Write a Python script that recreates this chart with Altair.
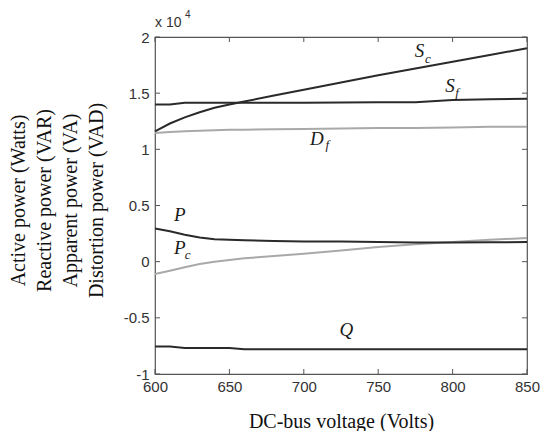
import altair as alt
import pandas as pd

# ---- data (values in units of 10^4) ----
voltage = [600, 610, 620, 630, 640, 650, 660, 680, 700, 725, 750, 775, 800, 825, 850]
s_c = [1.16, 1.23, 1.285, 1.33, 1.37, 1.40, 1.425, 1.48, 1.53, 1.595, 1.66, 1.72, 1.78, 1.84, 1.90]
s_f = [1.40, 1.40, 1.415, 1.415, 1.415, 1.415, 1.415, 1.415, 1.415, 1.418, 1.42, 1.42, 1.44, 1.445, 1.45]
d_f = [1.145, 1.155, 1.16, 1.165, 1.17, 1.175, 1.175, 1.178, 1.18, 1.185, 1.19, 1.19, 1.195, 1.20, 1.20]
p = [0.295, 0.27, 0.24, 0.215, 0.20, 0.195, 0.19, 0.185, 0.18, 0.18, 0.175, 0.17, 0.17, 0.172, 0.175]
p_c = [-0.11, -0.08, -0.05, -0.02, 0.0, 0.015, 0.03, 0.05, 0.07, 0.10, 0.13, 0.155, 0.175, 0.195, 0.21]
q = [-0.756, -0.756, -0.768, -0.768, -0.768, -0.768, -0.78, -0.78, -0.78, -0.78, -0.78, -0.78, -0.78, -0.78, -0.78]

series_names = ["Df", "Pc", "Sc", "Sf", "P", "Q"]
series_values = [d_f, p_c, s_c, s_f, p, q]
series_colors = ["#a9a9a9", "#a9a9a9", "#2a2a2a", "#2a2a2a", "#2a2a2a", "#2a2a2a"]

x_ticks = [600, 650, 700, 750, 800, 850]
y_ticks = [-1, -0.5, 0, 0.5, 1, 1.5, 2]

label_main = ["S", "S", "D", "P", "P", "Q"]
label_v = [777.7, 798.3, 708.8, 616.6, 616.6, 728.6]
label_val = [1.871, 1.562, 1.094, 0.415, 0.124, -0.61]

sub_text = ["c", "f", "f", "c"]
sub_v = [781.5, 801.8, 714.5, 620.0]
sub_val = [1.805, 1.50, 1.035, 0.062]

exp_base = "x 10"
exp_power = "4"
exp_v = 600
exp_val = 2.127

x_title = "DC-bus voltage (Volts)"
y_title = ["Active power (Watts)", "Reactive power (VAR)",
           "Apparent power (VA)", "Distortion power (VAD)"]

# ---- tables ----
rows = []
for name, vals in zip(series_names, series_values):
    for v, val in zip(voltage, vals):
        rows.append({"series": name, "voltage": v, "value": val})
df = pd.DataFrame(rows)

lab = pd.DataFrame({"main": label_main, "voltage": label_v, "value": label_val})
sublab = pd.DataFrame({"sub": sub_text, "voltage": sub_v, "value": sub_val})
expdf = pd.DataFrame({"base": [exp_base], "pw": [exp_power],
                      "voltage": [exp_v], "value": [exp_val]})
xt = pd.DataFrame({"voltage": x_ticks})
yt = pd.DataFrame({"value": y_ticks})

W, H = 372, 337
frame = "#555555"
TL = 5

xscale = alt.Scale(domain=[600, 850], nice=False, zero=False)
yscale = alt.Scale(domain=[-1, 2], nice=False, zero=False)

xaxis = alt.Axis(values=x_ticks, title=x_title, ticks=False, domain=False, grid=False,
                 labelFont="Liberation Sans", labelFontSize=15, labelColor="#333333",
                 labelPadding=5, labelFlush=False,
                 titleFont="Liberation Serif", titleFontSize=20, titleFontWeight="normal",
                 titleColor="#111111", titleY=47, titleBaseline="middle")
yaxis = alt.Axis(values=y_ticks, title=y_title, ticks=False, domain=False, grid=False,
                 labelFont="Liberation Sans", labelFontSize=15, labelColor="#333333",
                 labelPadding=6, labelExpr="toString(datum.value)",
                 titleFont="Liberation Serif", titleFontSize=20, titleFontWeight="normal",
                 titleColor="#111111", titleX=-127, titleY=163, titleLineHeight=26,
                 titleBaseline="bottom", titleAlign="center", titleAngle=270)

X = alt.X("voltage:Q", scale=xscale)
Y = alt.Y("value:Q", scale=yscale)

lines = alt.Chart(df).mark_line(strokeWidth=2).encode(
    x=alt.X("voltage:Q", scale=xscale, axis=xaxis),
    y=alt.Y("value:Q", scale=yscale, axis=yaxis),
    color=alt.Color("series:N", scale=alt.Scale(domain=series_names, range=series_colors),
                    legend=None),
    detail="series:N",
)

tb = alt.Chart(xt).mark_rule(color=frame, strokeWidth=1).encode(
    x=X, y=alt.value(H), y2=alt.value(H - TL))
tt = alt.Chart(xt).mark_rule(color=frame, strokeWidth=1).encode(
    x=X, y=alt.value(0), y2=alt.value(TL))
tl = alt.Chart(yt).mark_rule(color=frame, strokeWidth=1).encode(
    y=Y, x=alt.value(0), x2=alt.value(TL))
tr = alt.Chart(yt).mark_rule(color=frame, strokeWidth=1).encode(
    y=Y, x=alt.value(W), x2=alt.value(W - TL))

main_txt = alt.Chart(lab).mark_text(font="Liberation Serif", fontStyle="italic", fontSize=19,
                                    align="center", baseline="middle", color="#1a1a1a").encode(
    x=X, y=Y, text="main:N")
sub_txt = alt.Chart(sublab).mark_text(font="Liberation Serif", fontStyle="italic", fontSize=13,
                                      align="left", baseline="middle", color="#1a1a1a").encode(
    x=X, y=Y, text="sub:N")

exp_txt = alt.Chart(expdf).mark_text(font="Liberation Sans", fontSize=14, align="left",
                                     baseline="middle", color="#333333").encode(
    x=X, y=Y, text="base:N")
pw_txt = alt.Chart(expdf).mark_text(font="Liberation Sans", fontSize=10, align="left",
                                    baseline="middle", color="#333333", dx=30, dy=-8).encode(
    x=X, y=Y, text="pw:N")

chart = alt.layer(lines, tb, tt, tl, tr, main_txt, sub_txt, exp_txt, pw_txt).properties(
    width=W, height=H,
    autosize=alt.AutoSizeParams(type="none"),
    padding={"left": 147, "top": 29, "right": 13, "bottom": 57},
    background="white",
).configure_view(stroke=frame, strokeWidth=1.2)

chart.save("out.html", embed_options={"renderer": "svg", "actions": False})
